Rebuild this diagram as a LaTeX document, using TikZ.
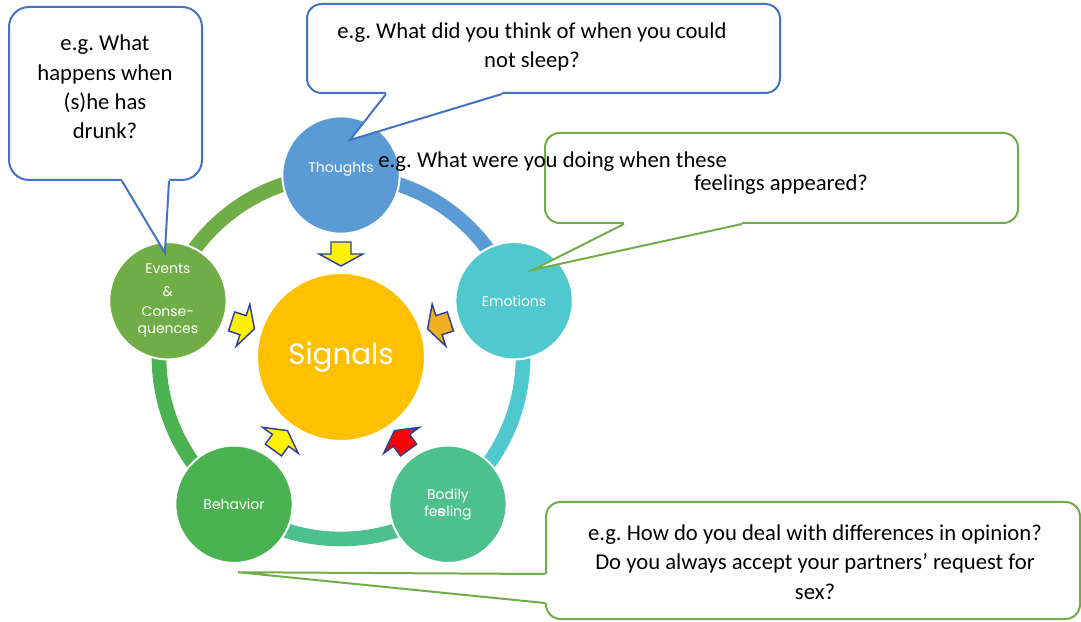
\documentclass[tikz,border=0pt]{standalone}
\usepackage{fontspec}
\setmainfont{Carlito}
\newfontfamily\gothic{Poppins}
\usetikzlibrary{calc}
\frenchspacing

\definecolor{thoughtblue}{RGB}{91,155,213}
\definecolor{emoteal}{RGB}{79,200,206}
\definecolor{bodygreen}{RGB}{77,193,141}
\definecolor{behavgreen}{RGB}{74,178,80}
\definecolor{eventgreen}{RGB}{112,173,71}
\definecolor{signalamber}{RGB}{255,192,0}
\definecolor{signalorange}{RGB}{240,176,32}
\definecolor{arrowline}{RGB}{46,64,150}
\definecolor{calloutblue}{RGB}{68,114,196}
\definecolor{calloutgreen}{RGB}{112,173,71}

\tikzset{
	stage/.style    = {circle, draw=white, line width=1.5pt, minimum size=88pt, inner sep=0pt,
		align=center, text=white, font=\gothic\fontsize{10.5}{13}\selectfont},
	hub/.style      = {stage, minimum size=126pt, font=\gothic\fontsize{22}{26}\selectfont},
	ring/.style     = {line width=11pt},
	bubble/.style   = {draw, fill=white, rounded corners=11pt, line width=1.5pt, inner sep=0pt},
	question/.style = {align=center, inner sep=0pt, font=\fontsize{17}{22}\selectfont},
	signal/.style   = {draw=arrowline, line width=1.1pt, line join=miter},
	tailline/.style = {line width=1.5pt, line join=miter}
}

% block arrow at angle #1 round the centre, pointing inwards, filled with #2
\newcommand{\sigarrow}[2]{%
	\filldraw[signal, fill=#2, shift={($(core.center)+(#1:104)$)}, rotate=#1+180]
		(-11,-10) -- (1,-10) -- (1,-22) -- (13,0) -- (1,22) -- (1,10) -- (-11,10) -- cycle;}

% pointer of a callout: colour, base point, tip, base point, inward shift
\newcommand{\calltail}[5]{%
	\fill[white] ($(#2)+#5$) -- (#2) -- (#3) -- (#4) -- ($(#4)+#5$) -- cycle;
	\draw[#1, tailline] (#2) -- (#3) -- (#4);}

\begin{document}
\begin{tikzpicture}[x=0.75pt, y=0.75pt]
\useasboundingbox (0,0) rectangle (1081,621);

% centre of the cycle
\node[hub, fill=signalamber] (core) at (341,264) {Signals};

% ring between the stages
\draw[ring, thoughtblue] ($(core.center)+(90:182)$) arc[start angle=90, end angle=18, radius=182];
\draw[ring, emoteal] ($(core.center)+(18:182)$) arc[start angle=18, end angle=-54, radius=182];
\draw[ring, bodygreen] ($(core.center)+(-54:182)$) arc[start angle=-54, end angle=-126, radius=182];
\draw[ring, behavgreen] ($(core.center)+(-126:182)$) arc[start angle=-126, end angle=-198, radius=182];
\draw[ring, eventgreen] ($(core.center)+(162:182)$) arc[start angle=162, end angle=90, radius=182];

% the five stages
\node[stage, fill=thoughtblue] (thoughts) at ($(core.center)+(90:182)$) {\raisebox{12pt}{Thoughts}};
\node[stage, fill=emoteal] (emotions) at ($(core.center)+(18:182)$) {Emotions};
\node[stage, fill=bodygreen] (bodily) at ($(core.center)+(-54:182)$) {Bodily\\fe\rlap{s}eling};
\node[stage, fill=behavgreen] (behavior) at ($(core.center)+(-126:182)$) {Behavior};
\node[stage, fill=eventgreen] (events) at ($(core.center)+(162:182)$) {Events\\[4pt]\&\\[2pt]Conse-\\quences};

% arrows into the centre
\sigarrow{90}{yellow}
\sigarrow{18}{signalorange}
\sigarrow{-54}{red}
\sigarrow{-126}{yellow}
\sigarrow{162}{yellow}

% callout boxes
\node[bubble, draw=calloutblue, rounded corners=15pt, minimum width=144.75pt, minimum height=129.75pt] (drinkbox) at (105.5,527.5) {};
\node[bubble, draw=calloutblue, minimum width=354.75pt, minimum height=66.75pt] (sleepbox) at (543.5,572.5) {};
\node[bubble, draw=calloutgreen, minimum width=354.75pt, minimum height=67.5pt] (feelbox) at (781.5,443) {};
\node[bubble, draw=calloutgreen, minimum width=400.5pt, minimum height=87.75pt] (opinionbox) at (813,60.5) {};

% pointers
\coordinate (drinka) at ($(drinkbox.south west)+(114,0)$);
\coordinate (drinkb) at ($(drinkbox.south west)+(161,0)$);
\coordinate (drinktip) at ($(events.center)+(-3,48)$);
\calltail{calloutblue}{drinka}{drinktip}{drinkb}{(0,3)}

\coordinate (sleepa) at ($(sleepbox.south west)+(80,0)$);
\coordinate (sleepb) at ($(sleepbox.south west)+(196,0)$);
\coordinate (sleeptip) at ($(thoughts.center)+(9,35)$);
\calltail{calloutblue}{sleepa}{sleeptip}{sleepb}{(0,3)}

\coordinate (feela) at ($(feelbox.south west)+(80,0)$);
\coordinate (feelb) at ($(feelbox.south west)+(198,0)$);
\coordinate (feeltip) at ($(emotions.center)+(19,31)$);
\calltail{calloutgreen}{feela}{feeltip}{feelb}{(0,3)}

\coordinate (opiniona) at ($(opinionbox.south west)+(0,46)$);
\coordinate (opinionb) at ($(opinionbox.south west)+(0,17)$);
\coordinate (opiniontip) at ($(behavior.center)+(4,-68)$);
\calltail{calloutgreen}{opiniona}{opiniontip}{opinionb}{(3,0)}

% questions
\node[question] (drinkq) at (105,534) {e.g. What\\happens when\\(s)he has\\drunk?};
\node[question] (sleepq) at (532,574) {e.g. What did you think of when you could\\not sleep?};
\node[question, anchor=west] (feelq) at (378,459) {e.g. What were you doing when these};
\node[question] (feelq2) at (781,436) {feelings appeared?};
\node[question] (opinionq) at (815,59) {e.g. How do you deal with differences in opinion?\\Do you always accept your partners’ request for\\sex?};

\end{tikzpicture}
\end{document}
